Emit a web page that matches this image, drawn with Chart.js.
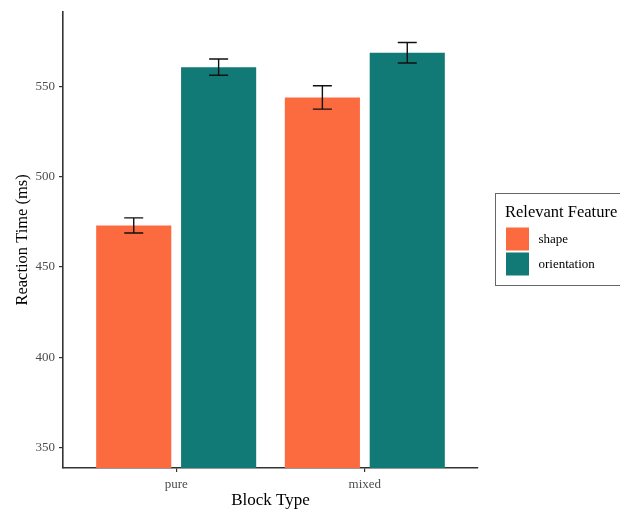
<!DOCTYPE html>
<html>
<head>
<meta charset="utf-8">
<script src="https://cdn.jsdelivr.net/npm/chart.js@4"></script>
<style>
  html, body { margin: 0; padding: 0; background: #ffffff; }
  #wrap { width: 620px; height: 509px; position: relative; }
</style>
</head>
<body>
<div id="wrap"><canvas id="c" width="620" height="509"></canvas></div>
<script>
// Block types on the x axis
const categories = ['pure', 'mixed'];
// Relevant feature groups
const seriesNames = ['shape', 'orientation'];
const seriesColors = ['#FC6A40', '#127A76'];
// Mean reaction times (ms) per block type
const shapeRT = [473.0, 544.0];
const orientationRT = [560.8, 568.8];
// Error bar half-widths (ms)
const shapeErr = [4.2, 6.5];
const orientationErr = [4.5, 5.7];
// Y axis tick values
const yTicks = [350, 400, 450, 500, 550];

const serif = "'Liberation Serif', 'Times New Roman', serif";

const seriesValues = [shapeRT, orientationRT];
const seriesErrors = [shapeErr, orientationErr];

const datasets = seriesNames.map((name, s) => ({
  label: name,
  data: categories.map((c, i) => ({ x: i + 1, y: seriesValues[s][i] })),
  errors: seriesErrors[s],
  backgroundColor: seriesColors[s],
  borderWidth: 0,
  categoryPercentage: 0.9,
  barPercentage: 0.885
}));

// Whiskers for each bar, placed through the value scale
const errorBars = {
  id: 'errorBars',
  afterDatasetsDraw(chart) {
    const ctx = chart.ctx;
    const yScale = chart.scales.y;
    ctx.save();
    ctx.strokeStyle = '#111111';
    ctx.lineWidth = 1.4;
    chart.data.datasets.forEach((ds, di) => {
      const meta = chart.getDatasetMeta(di);
      meta.data.forEach((bar, i) => {
        const v = ds.data[i].y, e = ds.errors[i];
        const yTop = yScale.getPixelForValue(v + e);
        const yBot = yScale.getPixelForValue(v - e);
        const half = 9.5;
        ctx.beginPath();
        ctx.moveTo(bar.x, yTop); ctx.lineTo(bar.x, yBot);
        ctx.moveTo(bar.x - half, yTop); ctx.lineTo(bar.x + half, yTop);
        ctx.moveTo(bar.x - half, yBot); ctx.lineTo(bar.x + half, yBot);
        ctx.stroke();
      });
    });
    ctx.restore();
  }
};

// Boxed legend on the right, with a title and square keys
const boxLegend = {
  id: 'boxLegend',
  afterDraw(chart) {
    const ctx = chart.ctx;
    const x0 = chart.chartArea.right + 17.5;
    const y0 = 193.5;
    ctx.save();
    ctx.strokeStyle = '#666666';
    ctx.lineWidth = 1;
    ctx.strokeRect(x0, y0, 160, 92);
    ctx.fillStyle = '#000000';
    ctx.font = '16.5px ' + serif;
    ctx.textBaseline = 'middle';
    ctx.textAlign = 'left';
    ctx.fillText('Relevant Feature', x0 + 9.5, y0 + 19);
    chart.data.datasets.forEach((ds, i) => {
      const ky = y0 + 34 + i * 25;
      ctx.fillStyle = ds.backgroundColor;
      ctx.fillRect(x0 + 10.5, ky, 23, 23);
      ctx.fillStyle = '#000000';
      ctx.font = '13px ' + serif;
      ctx.fillText(ds.label, x0 + 43, ky + 12);
    });
    ctx.restore();
  }
};

new Chart(document.getElementById('c'), {
  type: 'bar',
  data: { datasets },
  plugins: [errorBars, boxLegend],
  options: {
    responsive: false,
    animation: false,
    layout: { padding: { top: 11, right: 142, left: 0, bottom: 0 } },
    plugins: {
      legend: { display: false },
      tooltip: { enabled: false }
    },
    scales: {
      x: {
        type: 'linear',
        min: 0.4,
        max: 2.6,
        offset: false,
        afterBuildTicks: (s) => { s.ticks = categories.map((c, i) => ({ value: i + 1 })); },
        afterFit: (s) => { s.height = 41; },
        ticks: {
          callback: (v) => categories[Math.round(v) - 1] || '',
          color: '#4D4D4D',
          font: { family: serif, size: 13 },
          padding: 5,
          maxRotation: 0,
          autoSkip: false
        },
        grid: { display: true, offset: false, drawOnChartArea: false, drawTicks: true, tickLength: 4, color: '#333333', lineWidth: 1.2 },
        border: { display: true, color: '#333333', width: 1.6 },
        title: {
          display: true,
          text: 'Block Type',
          color: '#000000',
          font: { family: serif, size: 17, lineHeight: 1 },
          padding: { top: 0, bottom: 0 }
        }
      },
      y: {
        min: 338.5,
        max: 591.5,
        afterBuildTicks: (s) => { s.ticks = yTicks.map(v => ({ value: v })); },
        afterFit: (s) => { s.width = 63; },
        ticks: {
          color: '#4D4D4D',
          font: { family: serif, size: 13 },
          padding: 4
        },
        grid: { display: true, drawOnChartArea: false, drawTicks: true, tickLength: 4, color: '#333333', lineWidth: 1.2 },
        border: { display: true, color: '#333333', width: 1.6 },
        title: {
          display: true,
          text: 'Reaction Time (ms)',
          color: '#000000',
          font: { family: serif, size: 16.5 },
          padding: { top: 13, bottom: 0 }
        }
      }
    }
  }
});
</script>
</body>
</html>
